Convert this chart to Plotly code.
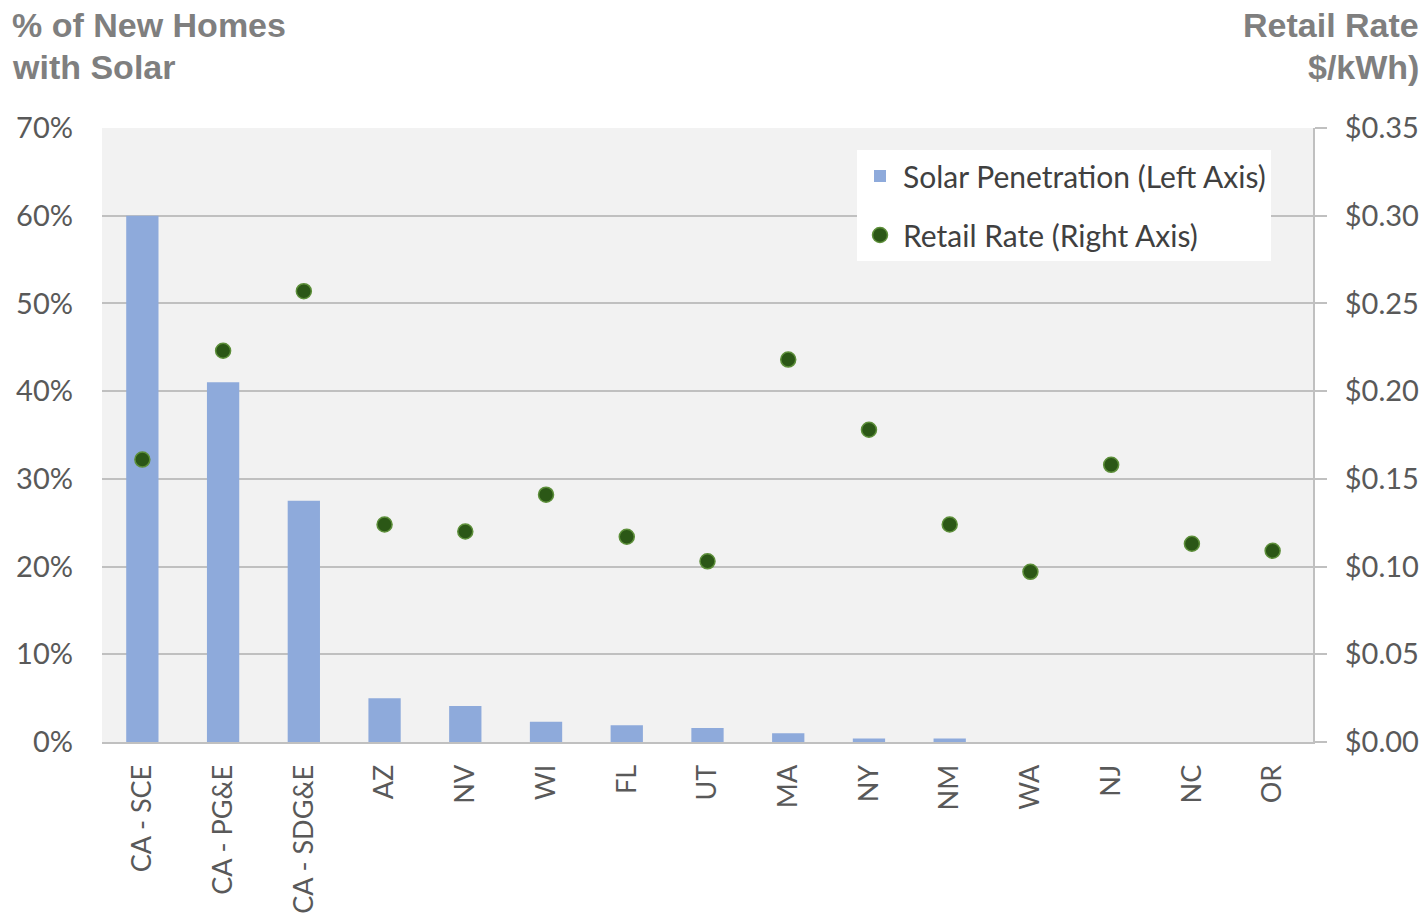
import plotly.graph_objects as go

categories = ["CA - SCE", "CA - PG&E", "CA - SDG&E", "AZ", "NV", "WI", "FL", "UT",
              "MA", "NY", "NM", "WA", "NJ", "NC", "OR"]
solar_pct = [60.0, 41.0, 27.5, 5.0, 4.1, 2.3, 1.9, 1.6, 1.0, 0.4, 0.4, 0.0, 0.0, 0.0, 0.0]
retail_rate = [0.161, 0.223, 0.257, 0.124, 0.120, 0.141, 0.117, 0.103,
               0.218, 0.178, 0.124, 0.097, 0.158, 0.113, 0.109]

left_ticks = [0, 10, 20, 30, 40, 50, 60, 70]
left_labels = [f"{v}%" for v in left_ticks]
right_ticks = [0, 0.05, 0.10, 0.15, 0.20, 0.25, 0.30, 0.35]
right_labels = [f"${v:.2f}" for v in right_ticks]

FAM = "Lato, 'Open Sans', sans-serif"
ytick_font = dict(family=FAM, size=29, color="#595959")
xtick_font = dict(family=FAM, size=27, color="#595959")
grid_col = "#c0c0c0"
title_font = dict(family="Liberation Sans, Arial, sans-serif", size=34, color="#7f7f7f")

W, H = 1424, 913
L, R, T, B = 102, 111, 128, 171
pw, ph = W - L - R, H - T - B


def px_x(x):
    return (x - L) / pw


def px_y(y):
    return (H - B - y) / ph


fig = go.Figure()
fig.add_trace(go.Bar(
    x=categories, y=solar_pct, name="Solar Penetration (Left Axis)",
    legendgroup="a",
    marker=dict(color="#8eaadb", line=dict(width=0)), width=0.4, yaxis="y"))
fig.add_trace(go.Scatter(
    x=categories, y=retail_rate, name="Retail Rate (Right Axis)", mode="markers",
    legendgroup="b",
    marker=dict(color="#2b5716", size=15, line=dict(color="#5d8f3a", width=1.5)),
    yaxis="y2"))

fig.update_layout(
    width=W, height=H,
    margin=dict(l=L, r=R, t=T, b=B, autoexpand=False),
    paper_bgcolor="white", plot_bgcolor="#f2f2f2",
    font=dict(family=FAM),
    showlegend=True,
    legend=dict(x=px_x(857), y=px_y(150), xanchor="left", yanchor="top",
                bgcolor="white", borderwidth=0,
                font=dict(family=FAM, size=30, color="#404040"),
                itemwidth=36, tracegroupgap=17,
                traceorder="grouped"),
    xaxis=dict(type="category", tickangle=-90, tickfont=xtick_font, automargin=False,
               showgrid=False, showline=True, linecolor=grid_col, linewidth=2,
               ticks="", ticklabelstandoff=10, range=[-0.5, 14.5]),
    yaxis=dict(range=[0, 70], tickvals=left_ticks, ticktext=left_labels, automargin=False,
               tickfont=ytick_font, showgrid=True, gridcolor=grid_col, gridwidth=2,
               zeroline=False, showline=False, ticks="", ticklabelstandoff=28),
    yaxis2=dict(range=[0, 0.35], tickvals=right_ticks, ticktext=right_labels,
                overlaying="y", side="right", tickfont=ytick_font, automargin=False,
                showgrid=False, zeroline=False, showline=True, linecolor=grid_col,
                linewidth=2, ticks="outside", ticklen=12, tickcolor=grid_col,
                tickwidth=2, ticklabelstandoff=12),
    annotations=[
        dict(text="<b>% of New Homes</b>", x=px_x(10), y=px_y(25),
             xref="paper", yref="paper", showarrow=False,
             xanchor="left", yanchor="middle", font=title_font),
        dict(text="<b>with Solar</b>", x=px_x(10), y=px_y(67),
             xref="paper", yref="paper", showarrow=False,
             xanchor="left", yanchor="middle", font=title_font),
        dict(text="<b>Retail Rate</b>", x=px_x(1421), y=px_y(25),
             xref="paper", yref="paper", showarrow=False,
             xanchor="right", yanchor="middle", font=title_font),
        dict(text="<b>$/kWh)</b>", x=px_x(1421), y=px_y(67),
             xref="paper", yref="paper", showarrow=False,
             xanchor="right", yanchor="middle", font=title_font),
    ],
)

fig.write_html("out.html", config={"displayModeBar": False},
               post_script="document.body.style.margin='0';")
